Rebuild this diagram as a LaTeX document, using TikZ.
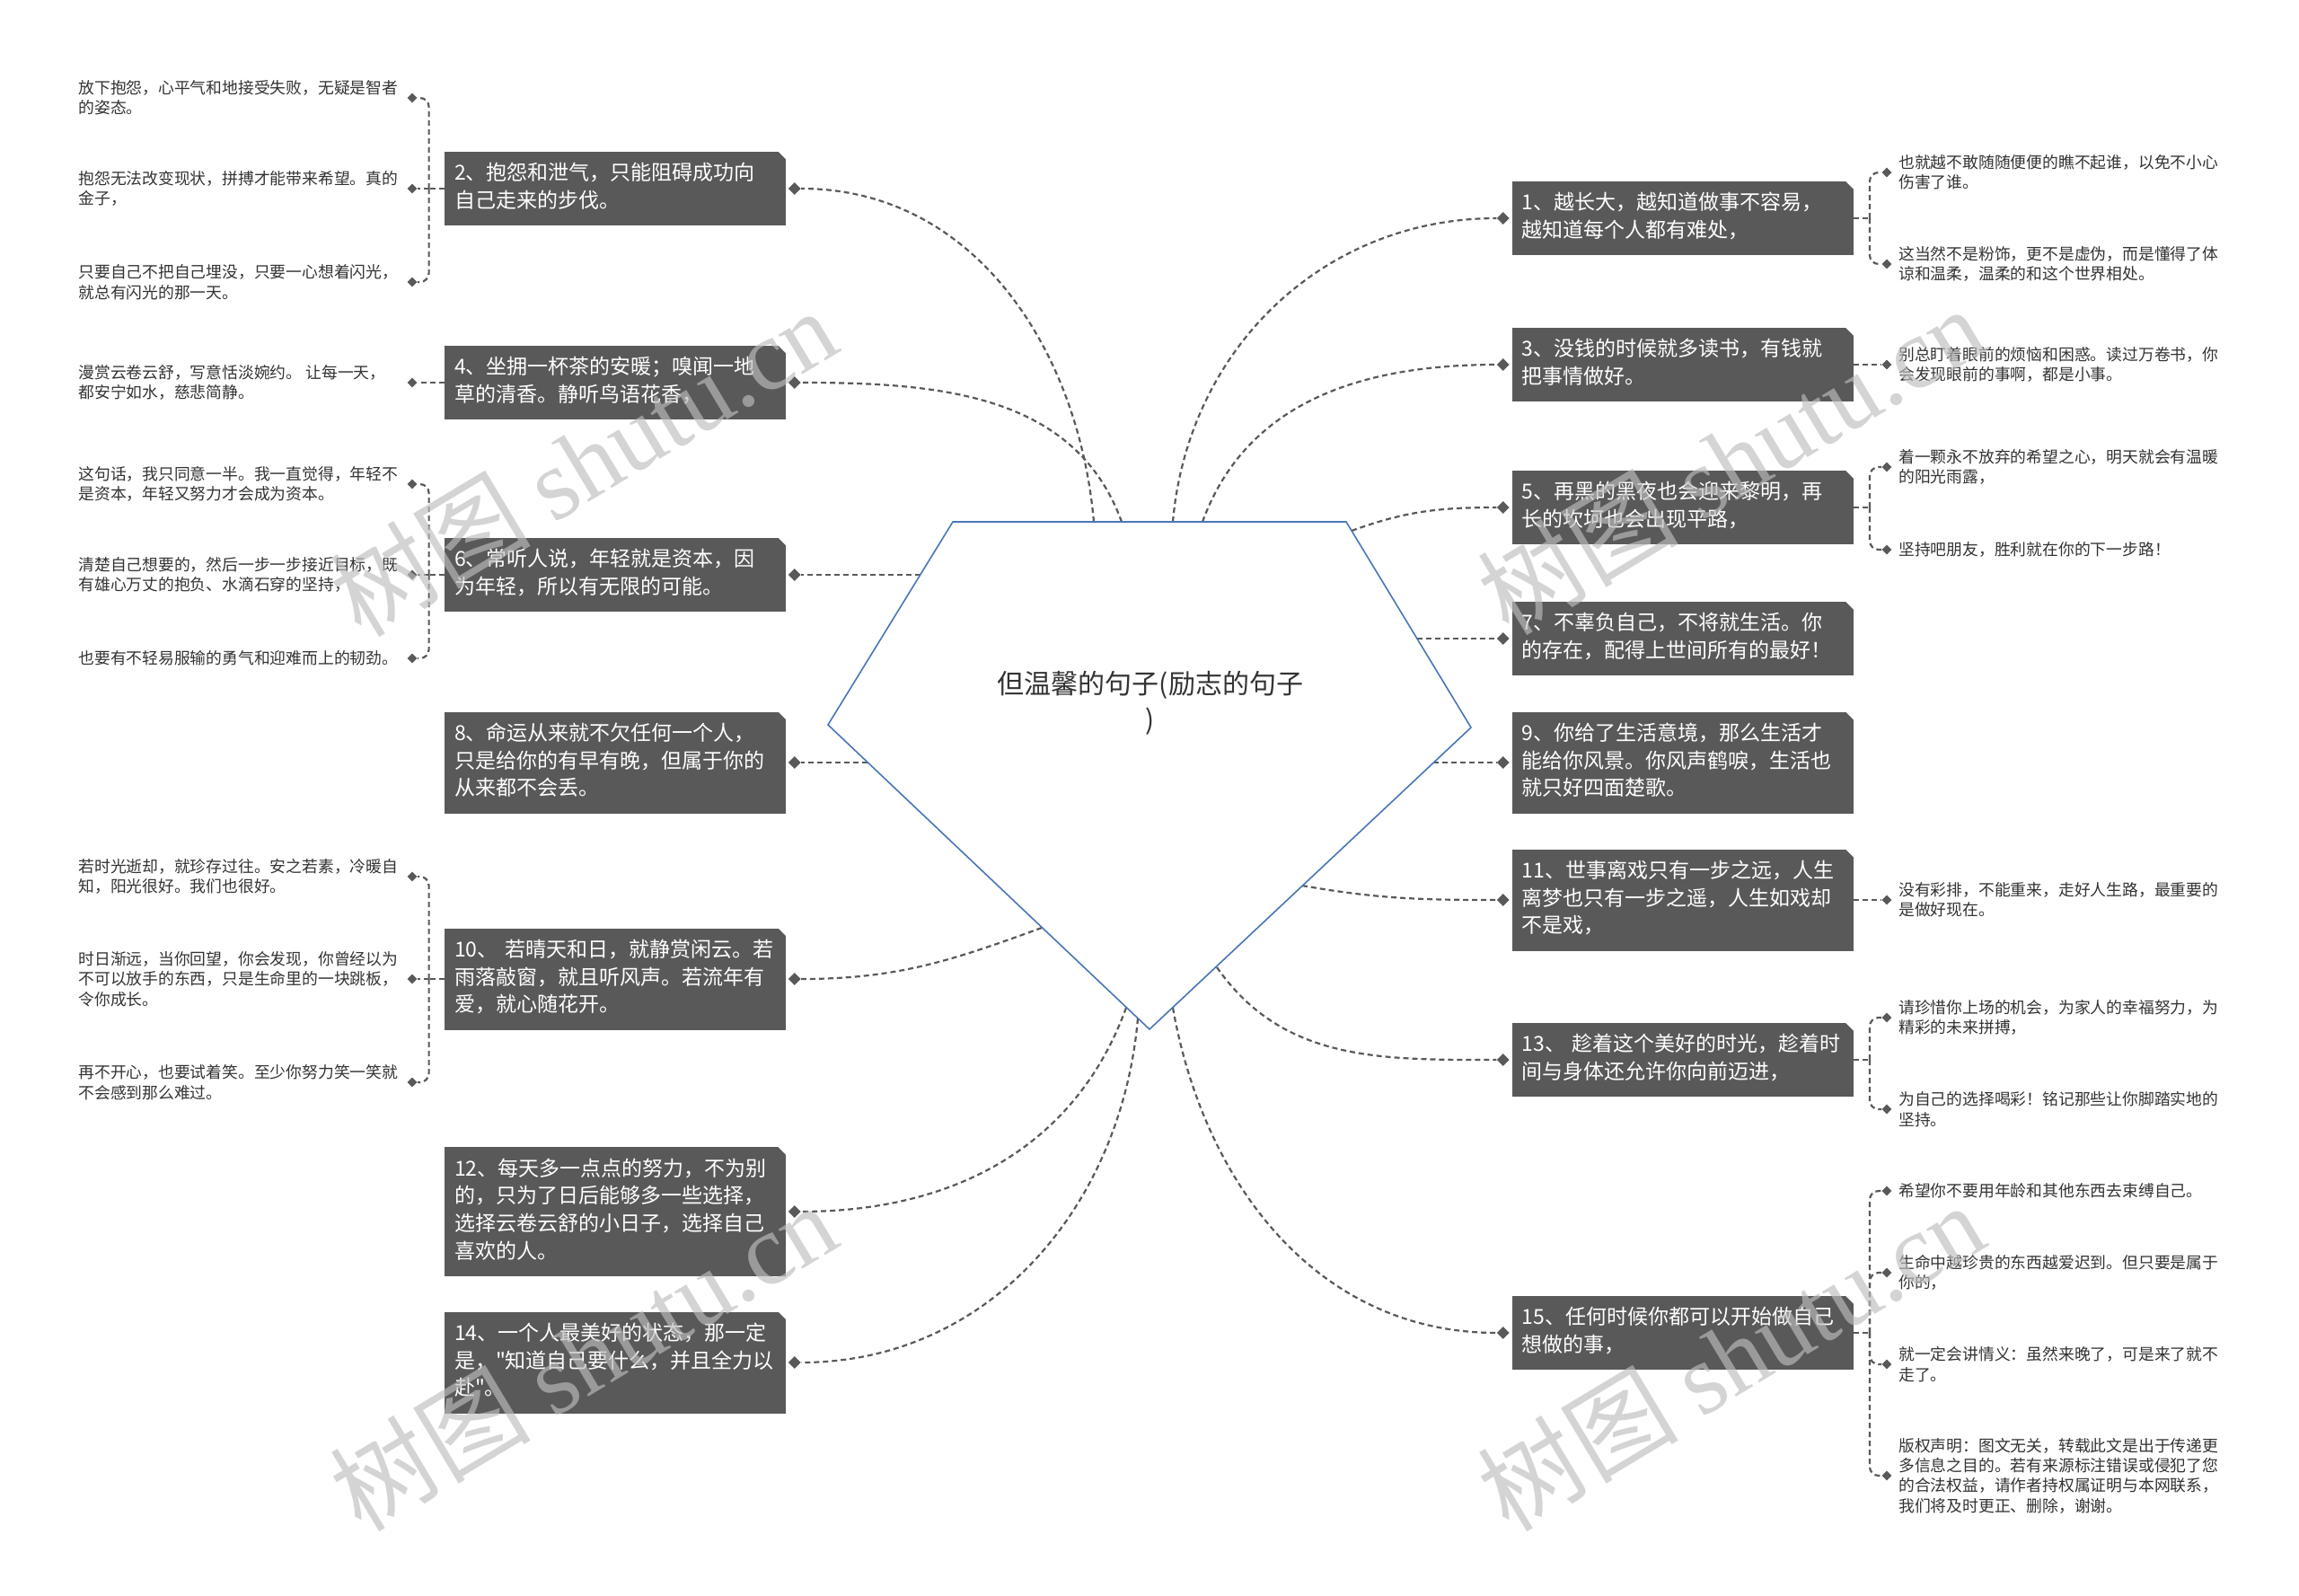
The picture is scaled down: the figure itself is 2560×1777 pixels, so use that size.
\documentclass[tikz,border=0pt]{standalone}
\usepackage{fontspec}
\setmainfont{Noto Sans CJK SC}[Ligatures=TeXOff]
\newfontfamily\wmlatin{Liberation Serif}
\usetikzlibrary{positioning,shapes.geometric}

\definecolor{boxgray}{HTML}{595959}
\definecolor{linegray}{HTML}{595959}
\definecolor{leaftext}{HTML}{333333}
\definecolor{gemblue}{HTML}{4A76B8}
\definecolor{wmgray}{HTML}{BEBEBE}

\newcommand{\boxfont}{\fontsize{11.5pt}{15.3pt}\selectfont}
\newcommand{\leaffont}{\fontsize{8.9pt}{11.2pt}\selectfont}
\newcommand{\rootfont}{\fontsize{15pt}{20pt}\selectfont}
\newcommand{\wmfont}{\fontsize{56pt}{56pt}\selectfont}

\tikzset{
  mainbox/.style={fill=boxgray, text=white, font=\boxfont, text width=179pt,
    inner xsep=5.5pt, inner ysep=5.3pt, align=left,
    execute at begin node=\strut, execute at end node=\strut},
  leaf/.style={font=\leaffont, text=leaftext, align=left, inner sep=0pt},
  bdia/.style={diamond, fill=linegray, inner sep=0pt, minimum size=7pt},
  ldia/.style={diamond, fill=linegray, inner sep=0pt, minimum size=5.5pt},
  conn/.style={draw=linegray, line width=1.1pt, dash pattern=on 3pt off 2pt},
  gem/.style={draw=gemblue, fill=white, line width=0.8pt},
  wmark/.style={text=wmgray, text opacity=0.65, rotate=31, inner sep=0pt}
}

\begin{document}
\begin{tikzpicture}[x=0.5pt, y=-0.5pt]
    \fill[white] (0,0) rectangle (2560,1777);
    \useasboundingbox (0,0) rectangle (2560,1777);

    % Left branches
    \node[mainbox] (b2) at (685,210) {2、抱怨和泄气，只能阻碍成功向\\自己走来的步伐。};
    \node[mainbox] (b4) at (685,426) {4、坐拥一杯茶的安暖；嗅闻一地\\草的清香。静听鸟语花香，};
    \node[mainbox] (b6) at (685,640) {6、常听人说，年轻就是资本，因\\为年轻，所以有无限的可能。};
    \node[mainbox] (b8) at (685,849) {8、命运从来就不欠任何一个人，\\只是给你的有早有晚，但属于你的\\从来都不会丢。};
    \node[mainbox] (b10) at (685,1090) {10、 若晴天和日，就静赏闲云。若\\雨落敲窗，就且听风声。若流年有\\爱，就心随花开。};
    \node[mainbox] (b12) at (685,1349) {12、每天多一点点的努力，不为别\\的，只为了日后能够多一些选择，\\选择云卷云舒的小日子，选择自己\\喜欢的人。};
    \node[mainbox] (b14) at (685,1517) {14、一个人最美好的状态，那一定\\是，"知道自己要什么，并且全力以\\赴"。};

    % Right branches
    \node[mainbox] (b1) at (1873.5,243) {1、越长大，越知道做事不容易，\\越知道每个人都有难处，};
    \node[mainbox] (b3) at (1873.5,406) {3、没钱的时候就多读书，有钱就\\把事情做好。};
    \node[mainbox] (b5) at (1873.5,565) {5、再黑的黑夜也会迎来黎明，再\\长的坎坷也会出现平路，};
    \node[mainbox] (b7) at (1873.5,711) {7、不辜负自己，不将就生活。你\\的存在，配得上世间所有的最好！};
    \node[mainbox] (b9) at (1873.5,849) {9、你给了生活意境，那么生活才\\能给你风景。你风声鹤唳，生活也\\就只好四面楚歌。};
    \node[mainbox] (b11) at (1873.5,1002) {11、世事离戏只有一步之远，人生\\离梦也只有一步之遥，人生如戏却\\不是戏，};
    \node[mainbox] (b13) at (1873.5,1180) {13、 趁着这个美好的时光，趁着时\\间与身体还允许你向前迈进，};
    \node[mainbox] (b15) at (1873.5,1484) {15、任何时候你都可以开始做自己\\想做的事，};

    % Cut corners
    \foreach \n in {1,...,15}
      \fill[white] ([xshift=-5pt,yshift=0.4pt]b\n.north east) -- ([xshift=0.4pt,yshift=0.4pt]b\n.north east) -- ([xshift=0.4pt,yshift=-5pt]b\n.north east) -- cycle;

    % Branch diamonds
    \foreach \n in {2,4,...,14}
      \node[bdia, right=1pt of b\n] (d\n) {};
    \foreach \n in {1,3,...,15}
      \node[bdia, left=1pt of b\n] (d\n) {};

    % Left leaves
    \node[ldia] (l2a) at (459,109) {};
    \node[ldia] (l2b) at (459,210) {};
    \node[ldia] (l2c) at (459,314) {};
    \node[leaf, anchor=west] (t2a) at (87,109) {放下抱怨，心平气和地接受失败，无疑是智者\\的姿态。};
    \node[leaf, anchor=west] (t2b) at (87,210) {抱怨无法改变现状，拼搏才能带来希望。真的\\金子，};
    \node[leaf, anchor=west] (t2c) at (87,314) {只要自己不把自己埋没，只要一心想着闪光，\\就总有闪光的那一天。};

    \node[ldia] (l4a) at (459,426) {};
    \node[leaf, anchor=west] (t4a) at (87,426) {漫赏云卷云舒，写意恬淡婉约。 让每一天，\\都安宁如水，慈悲简静。};

    \node[ldia] (l6a) at (459,539) {};
    \node[ldia] (l6b) at (459,640) {};
    \node[ldia] (l6c) at (459,733) {};
    \node[leaf, anchor=west] (t6a) at (87,539) {这句话，我只同意一半。我一直觉得，年轻不\\是资本，年轻又努力才会成为资本。};
    \node[leaf, anchor=west] (t6b) at (87,640) {清楚自己想要的，然后一步一步接近目标，既\\有雄心万丈的抱负、水滴石穿的坚持，};
    \node[leaf, anchor=west] (t6c) at (87,733) {也要有不轻易服输的勇气和迎难而上的韧劲。};

    \node[ldia] (l10a) at (459,976) {};
    \node[ldia] (l10b) at (459,1090) {};
    \node[ldia] (l10c) at (459,1205) {};
    \node[leaf, anchor=west] (t10a) at (87,976) {若时光逝却，就珍存过往。安之若素，冷暖自\\知，阳光很好。我们也很好。};
    \node[leaf, anchor=west] (t10b) at (87,1090) {时日渐远，当你回望，你会发现，你曾经以为\\不可以放手的东西，只是生命里的一块跳板，\\令你成长。};
    \node[leaf, anchor=west] (t10c) at (87,1205) {再不开心，也要试着笑。至少你努力笑一笑就\\不会感到那么难过。};

    % Right leaves
    \node[ldia] (l1a) at (2101,192) {};
    \node[ldia] (l1b) at (2101,294) {};
    \node[leaf, right=3.5pt of l1a] (t1a) {也就越不敢随随便便的瞧不起谁，以免不小心\\伤害了谁。};
    \node[leaf, right=3.5pt of l1b] (t1b) {这当然不是粉饰，更不是虚伪，而是懂得了体\\谅和温柔，温柔的和这个世界相处。};

    \node[ldia] (l3a) at (2101,406) {};
    \node[leaf, right=3.5pt of l3a] (t3a) {别总盯着眼前的烦恼和困惑。读过万卷书，你\\会发现眼前的事啊，都是小事。};

    \node[ldia] (l5a) at (2101,520) {};
    \node[ldia] (l5b) at (2101,612) {};
    \node[leaf, right=3.5pt of l5a] (t5a) {着一颗永不放弃的希望之心，明天就会有温暖\\的阳光雨露，};
    \node[leaf, right=3.5pt of l5b] (t5b) {坚持吧朋友，胜利就在你的下一步路！};

    \node[ldia] (l11a) at (2101,1002) {};
    \node[leaf, right=3.5pt of l11a] (t11a) {没有彩排，不能重来，走好人生路，最重要的\\是做好现在。};

    \node[ldia] (l13a) at (2101,1133) {};
    \node[ldia] (l13b) at (2101,1235) {};
    \node[leaf, right=3.5pt of l13a] (t13a) {请珍惜你上场的机会，为家人的幸福努力，为\\精彩的未来拼搏，};
    \node[leaf, right=3.5pt of l13b] (t13b) {为自己的选择喝彩！铭记那些让你脚踏实地的\\坚持。};

    \node[ldia] (l15a) at (2101,1326) {};
    \node[ldia] (l15b) at (2101,1417) {};
    \node[ldia] (l15c) at (2101,1519) {};
    \node[ldia] (l15d) at (2101,1643) {};
    \node[leaf, right=3.5pt of l15a] (t15a) {希望你不要用年龄和其他东西去束缚自己。};
    \node[leaf, right=3.5pt of l15b] (t15b) {生命中越珍贵的东西越爱迟到。但只要是属于\\你的，};
    \node[leaf, right=3.5pt of l15c] (t15c) {就一定会讲情义：虽然来晚了，可是来了就不\\走了。};
    \node[leaf, right=3.5pt of l15d] (t15d) {版权声明：图文无关，转载此文是出于传递更\\多信息之目的。若有来源标注错误或侵犯了您\\的合法权益，请作者持权属证明与本网联系，\\我们将及时更正、删除，谢谢。};

    % Leaf brackets
    \draw[conn] (b2.west) -- ++(-17,0) coordinate (k2);
    \draw[conn, rounded corners=5pt] (k2) |- (l2a.east);
    \draw[conn] (k2) -- (l2b.east);
    \draw[conn, rounded corners=5pt] (k2) |- (l2c.east);
    \draw[conn] (b4.west) -- (l4a.east);
    \draw[conn] (b6.west) -- ++(-17,0) coordinate (k6);
    \draw[conn, rounded corners=5pt] (k6) |- (l6a.east);
    \draw[conn] (k6) -- (l6b.east);
    \draw[conn, rounded corners=5pt] (k6) |- (l6c.east);
    \draw[conn] (b10.west) -- ++(-17,0) coordinate (k10);
    \draw[conn, rounded corners=5pt] (k10) |- (l10a.east);
    \draw[conn] (k10) -- (l10b.east);
    \draw[conn, rounded corners=5pt] (k10) |- (l10c.east);

    \draw[conn] (b1.east) -- ++(18,0) coordinate (k1);
    \draw[conn, rounded corners=5pt] (k1) |- (l1a.west);
    \draw[conn, rounded corners=5pt] (k1) |- (l1b.west);
    \draw[conn] (b3.east) -- (l3a.west);
    \draw[conn] (b5.east) -- ++(18,0) coordinate (k5);
    \draw[conn, rounded corners=5pt] (k5) |- (l5a.west);
    \draw[conn, rounded corners=5pt] (k5) |- (l5b.west);
    \draw[conn] (b11.east) -- (l11a.west);
    \draw[conn] (b13.east) -- ++(18,0) coordinate (k13);
    \draw[conn, rounded corners=5pt] (k13) |- (l13a.west);
    \draw[conn, rounded corners=5pt] (k13) |- (l13b.west);
    \draw[conn] (b15.east) -- ++(18,0) coordinate (k15);
    \draw[conn, rounded corners=5pt] (k15) |- (l15a.west);
    \draw[conn, rounded corners=5pt] (k15) |- (l15b.west);
    \draw[conn, rounded corners=5pt] (k15) |- (l15c.west);
    \draw[conn, rounded corners=5pt] (k15) |- (l15d.west);

    % Points on the gem
    \coordinate (s2) at (1218,581);
    \coordinate (s4) at (1249,581);
    \coordinate (s6) at (1025,640);
    \coordinate (s8) at (966,849);
    \coordinate (s10) at (1160,1033);
    \coordinate (s12) at (1254,1122);
    \coordinate (s14) at (1267,1134);
    \coordinate (s1) at (1306,581);
    \coordinate (s3) at (1339,581);
    \coordinate (s5) at (1505,591);
    \coordinate (s7) at (1578,711);
    \coordinate (s9) at (1596,849);
    \coordinate (s11) at (1450,986);
    \coordinate (s13) at (1355,1077);
    \coordinate (s15) at (1306,1122);

    % Branch connectors
    \draw[conn] (s2) to[out=95,in=0] (d2.east);
    \draw[conn] (s4) to[out=110,in=0] (d4.east);
    \draw[conn] (s6) -- (d6.east);
    \draw[conn] (s8) -- (d8.east);
    \draw[conn] (s10) to[out=200,in=0] (d10.east);
    \draw[conn] (s12) to[out=250,in=0] (d12.east);
    \draw[conn] (s14) to[out=265,in=0] (d14.east);
    \draw[conn] (s1) to[out=85,in=180] (d1.west);
    \draw[conn] (s3) to[out=70,in=180] (d3.west);
    \draw[conn] (s5) to[out=20,in=180] (d5.west);
    \draw[conn] (s7) -- (d7.west);
    \draw[conn] (s9) -- (d9.west);
    \draw[conn] (s11) to[out=-10,in=180] (d11.west);
    \draw[conn] (s13) to[out=-55,in=180] (d13.west);
    \draw[conn] (s15) to[out=-80,in=180] (d15.west);

    % Center gem
    \draw[gem] (1061,581) -- (1499,581) -- (1638,810) -- (1280,1146) -- (922,807) -- cycle;
    \node[font=\rootfont, text=leaftext, align=center] (root) at (1281,783) {但温馨的句子(励志的句子\\)};

    % Watermarks
    \foreach \x/\y [count=\i] in {649/514, 1927/512, 649/1510, 1927/1510}
      \node[wmark] (wm\i) at (\x,\y) {\wmfont 树图 {\wmlatin shutu.cn}};
\end{tikzpicture}
\end{document}
